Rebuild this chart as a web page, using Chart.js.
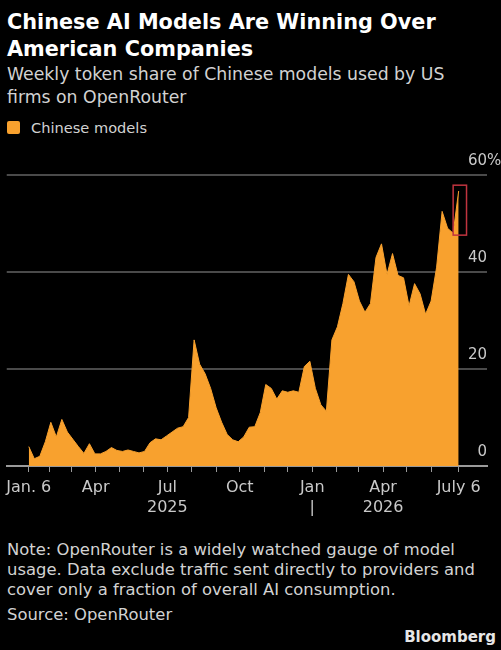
<!DOCTYPE html>
<html>
<head>
<meta charset="utf-8">
<script src="https://cdn.jsdelivr.net/npm/chart.js@4/dist/chart.umd.min.js"></script>
<style>
    body { margin: 0; background: #000; width: 501px; height: 650px; overflow: hidden; position: relative; font-family: "DejaVu Sans", sans-serif; }
    .txt { position: absolute; left: 7px; white-space: nowrap; }
    #title { top: 9px; font-size: 20.8px; line-height: 27px; font-weight: bold; color: #fff; }
    #subtitle { top: 63px; font-size: 17.3px; line-height: 23px; color: #d2d2d2; }
    #legend { top: 118px; font-size: 14.6px; line-height: 20px; color: #d2d2d2; }
    #legend .box { display: inline-block; width: 13px; height: 13px; background: #f8a12e; border-radius: 2px; margin-right: 11px; vertical-align: -1px; }
    #note { top: 540px; font-size: 16.4px; line-height: 20px; color: #d2d2d2; }
    #source { top: 605px; font-size: 16.4px; line-height: 20px; color: #d2d2d2; }
    #brand { position: absolute; right: 5px; top: 628px; font-size: 15px; font-weight: bold; color: #e6e6e6; }
    #chart { position: absolute; left: 0; top: 140px; }
</style>
</head>
<body>
<div id="title" class="txt">Chinese AI Models Are Winning Over<br>American Companies</div>
<div id="subtitle" class="txt">Weekly token share of Chinese models used by US<br>firms on OpenRouter</div>
<div id="legend" class="txt"><span class="box"></span>Chinese models</div>
<canvas id="chart" width="501" height="384"></canvas>
<div id="note" class="txt">Note: OpenRouter is a widely watched gauge of model<br>usage. Data exclude traffic sent directly to providers and<br>cover only a fraction of overall AI consumption.</div>
<div id="source" class="txt">Source: OpenRouter</div>
<div id="brand">Bloomberg</div>

<script>
// weekly share (%) of Chinese models, first week = Jan 6, 2025
const chineseShare = [
    4, 1.5, 2, 5, 9, 6, 9.6, 7, 5.5, 4,
    2.6, 4.6, 2.5, 2.5, 3, 3.8, 3.2, 3, 3.3, 3,
    2.7, 3, 4.8, 5.6, 5.4, 6.2, 7, 7.8, 8.1, 10,
    26, 21, 19, 16, 12, 9, 6.5, 5.4, 5, 6,
    8, 8.1, 11, 16.8, 16, 13.8, 15.5, 15.2, 15.5, 15.2,
    20.5, 21.6, 16, 12.6, 11.3, 26, 28.7, 33.5, 39.5, 38,
    34, 31.7, 33.5, 43, 45.8, 39.5, 43.8, 39.3, 38.8, 33,
    37.6, 35.5, 31.3, 34, 41, 52.5, 49, 48, 56.7
];

// x axis ticks: days after Jan 6 (month starts + last week)
const tickDays = [0, 26, 54, 85, 115, 146, 176, 207, 238, 268, 299, 329, 360, 391, 419, 450, 480, 511, 546];
const tickLabels = ['Jan. 6', '', '', 'Apr', '', '', ['Jul', '2025'], '', '', 'Oct', '', '',
    ['Jan', '|'], '', '', ['Apr', '2026'], '', '', 'July 6'];
const yTicks = [0, 20, 40, 60];

const ORANGE = '#f8a12e';
const LABEL = '#c9c9c9';

// latest week highlighted with a red box (days / %)
const highlight = { from: 539, to: 556, low: 47.6, high: 57.9 };

const points = chineseShare.map((v, i) => ({ x: i * 7, y: v }));

const extrasPlugin = {
    id: 'extras',
    afterDatasetsDraw(chart) {
        const { ctx, scales: { x, y } } = chart;
        ctx.save();
        ctx.strokeStyle = '#c0343f';
        ctx.lineWidth = 1.5;
        const x0 = x.getPixelForValue(highlight.from);
        const x1 = x.getPixelForValue(highlight.to);
        const y0 = y.getPixelForValue(highlight.high);
        const y1 = y.getPixelForValue(highlight.low);
        ctx.strokeRect(x0, y0, x1 - x0, y1 - y0);
        ctx.restore();
    },
    afterDraw(chart) {
        const { ctx, chartArea, scales: { y } } = chart;
        ctx.save();
        ctx.fillStyle = LABEL;
        ctx.font = '15px "DejaVu Sans"';
        ctx.textBaseline = 'middle';
        yTicks.forEach(v => {
            const py = y.getPixelForValue(v) - 14;
            ctx.textAlign = 'right';
            ctx.fillText(String(v), chartArea.right, py);
            if (v === yTicks[yTicks.length - 1]) {
                ctx.textAlign = 'left';
                ctx.fillText('%', chartArea.right, py);
            }
        });
        ctx.restore();
    }
};

new Chart(document.getElementById('chart').getContext('2d'), {
    type: 'line',
    data: {
        datasets: [{
            label: 'Chinese models',
            data: points,
            fill: 'origin',
            backgroundColor: ORANGE,
            borderColor: ORANGE,
            borderWidth: 1,
            pointRadius: 0,
            tension: 0
        }]
    },
    options: {
        responsive: false,
        animation: false,
        layout: { padding: { left: 6, right: 14, top: 35, bottom: 0 } },
        plugins: {
            legend: { display: false },
            tooltip: { enabled: false }
        },
        scales: {
            x: {
                type: 'linear',
                min: -28,
                max: 582,
                afterBuildTicks: axis => { axis.ticks = tickDays.map(v => ({ value: v })); },
                ticks: {
                    autoSkip: false,
                    maxRotation: 0,
                    color: LABEL,
                    font: { family: '"DejaVu Sans"', size: 16, lineHeight: 1.25 },
                    padding: 6,
                    callback: (value, index) => tickLabels[index]
                },
                grid: { drawOnChartArea: false, drawTicks: true, tickLength: 6, color: '#9a9a9a', lineWidth: 1 },
                border: { display: true, color: '#9a9a9a', width: 2 }
            },
            y: {
                position: 'right',
                min: 0,
                max: 60,
                afterBuildTicks: axis => { axis.ticks = yTicks.map(v => ({ value: v })); },
                ticks: { display: false },
                grid: { color: '#4a4a4a', lineWidth: 2, drawTicks: false },
                border: { display: false }
            }
        }
    },
    plugins: [extrasPlugin]
});
</script>
</body>
</html>
